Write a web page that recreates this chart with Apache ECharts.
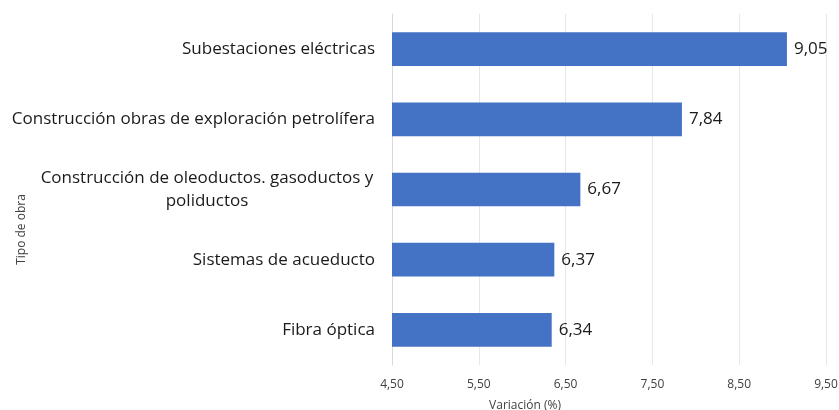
<!DOCTYPE html>
<html>
<head>
<meta charset="utf-8">
<script src="https://cdn.jsdelivr.net/npm/echarts@6/dist/echarts.min.js"></script>
<style>
html, body { margin: 0; padding: 0; background: #fff; }
#chart { width: 839px; height: 410px; }
</style>
</head>
<body>
<div id="chart"></div>
<script>
const categories = [
    'Subestaciones eléctricas',
    'Construcción obras de exploración petrolífera',
    'Construcción de oleoductos. gasoductos y\npoliductos',
    'Sistemas de acueducto',
    'Fibra óptica'
]
const values = [9.05, 7.84, 6.67, 6.37, 6.34]

const fmt = v => v.toFixed(2).replace('.', ',')
const font = 'Open Sans'

const chart = echarts.init(document.getElementById('chart'))
const option = {
    animation: false,
    grid: { left: 392, right: 13, top: 14, bottom: 45, containLabel: false, outerBoundsMode: 'none' },
    xAxis: {
        type: 'value',
        min: 4.5,
        max: 9.5,
        interval: 1,
        name: 'Variación (%)',
        nameLocation: 'middle',
        nameGap: 35,
        nameMoveOverlap: false,
        nameTextStyle: { color: '#404040', fontSize: 12, fontFamily: font, padding: [0, 168, 0, 0] },
        axisLine: { show: false },
        axisTick: { show: false },
        axisLabel: { color: '#404040', fontSize: 12, fontFamily: font, margin: 14, formatter: fmt },
        splitLine: { lineStyle: { color: '#e3e7ee', width: 1 } }
    },
    yAxis: {
        type: 'category',
        inverse: true,
        data: categories,
        name: 'Tipo de obra',
        nameLocation: 'middle',
        nameGap: 364,
        nameRotate: 90,
        nameMoveOverlap: false,
        nameTextStyle: { color: '#404040', fontSize: 12, fontFamily: font, padding: [0, 80, 0, 0] },
        axisLine: { lineStyle: { color: '#d9d9d9' } },
        axisTick: { length: 5, lineStyle: { color: '#d9d9d9' } },
        axisLabel: {
            color: '#1a1a1a',
            fontSize: 17,
            fontFamily: font,
            margin: 17,
            lineHeight: 23,
            formatter: v => v.indexOf('\n') >= 0
                ? v.split('\n').map(s => '{c|' + s + '}').join('\n')
                : v,
            rich: {
                c: { width: 336, align: 'center', fontSize: 17, fontFamily: font, color: '#1a1a1a', lineHeight: 23 }
            }
        }
    },
    series: [{
        type: 'bar',
        data: values,
        barCategoryGap: '52%',
        itemStyle: { color: '#4472c4' },
        label: {
            show: true,
            position: 'right',
            distance: 7,
            color: '#1a1a1a',
            fontSize: 17,
            fontFamily: font,
            formatter: p => fmt(p.value)
        }
    }]
}
chart.setOption(option)
</script>
</body>
</html>
